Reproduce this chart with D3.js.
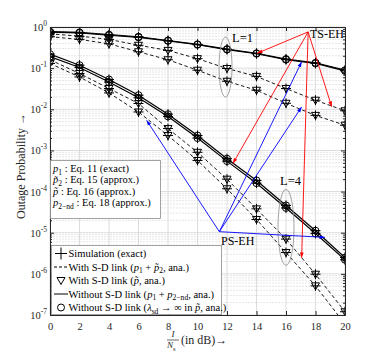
<!DOCTYPE html>
<html>
<head>
<meta charset="utf-8">
<script src="https://cdn.jsdelivr.net/npm/d3@7"></script>
<style>
  body { margin: 0; background: #fff; }
  text { font-family: "Liberation Serif", "Times New Roman", serif; }
</style>
</head>
<body>
<svg></svg>
<script>
// outage probability vs I/Ns, L=1 (upper group) and L=4 (lower group)
const width = 382,
      height = 354;

const snr = [0, 2, 4, 6, 8, 10, 12, 14, 16, 18, 20];

// L = 1
const tsL1Without = [0.77, 0.74, 0.65, 0.58, 0.47, 0.38, 0.29, 0.23, 0.166, 0.135, 0.089];
const psL1Without = [0.75, 0.72, 0.63, 0.56, 0.46, 0.37, 0.283, 0.224, 0.161, 0.13, 0.086];
const tsL1With    = [0.68, 0.6, 0.5, 0.36, 0.27, 0.17, 0.098, 0.063, 0.032, 0.0166, 0.0092];
const psL1With    = [0.58, 0.5, 0.39, 0.25, 0.16, 0.089, 0.048, 0.029, 0.014, 0.0071, 0.0041];

// L = 4
const tsL4Without = [0.22, 0.118, 0.053, 0.022, 0.0076, 0.0023, 6.3e-4, 1.86e-4, 4.6e-5, 1.12e-5, 2.5e-6];
const psL4Without = [0.19, 0.104, 0.046, 0.019, 0.0067, 0.002, 5.5e-4, 1.6e-4, 4e-5, 9.6e-6, 2.2e-6];
const tsL4With    = [0.16, 0.074, 0.032, 0.0138, 0.0034, 9e-4, 2e-4, 3.8e-5, 7e-6, 9.8e-7, 1.2e-7];
const psL4With    = [0.13, 0.061, 0.025, 0.0086, 0.0023, 5.7e-4, 1.17e-4, 2.1e-5, 3.3e-6, 5.1e-7, 6e-8];

const xTicks = [0, 2, 4, 6, 8, 10, 12, 14, 16, 18, 20];
const yTicks = [1e-7, 1e-6, 1e-5, 1e-4, 1e-3, 1e-2, 1e-1, 1];
const yExp = ['-7', '-6', '-5', '-4', '-3', '-2', '-1', '0'];

// annotation arrows, in data units: [from x, from p, to x, to p]
const tsArrows = [[17.5, 0.76, 14.05, 0.23], [17.5, 0.76, 19.1, 0.0115],
                  [17.5, 0.76, 12.4, 4.8e-4], [17.5, 0.76, 17.06, 2.45e-6]];
const psArrows = [[11.48, 1.06e-5, 6.55, 0.0054], [11.48, 1.06e-5, 17.06, 0.1425],
                  [11.48, 1.06e-5, 17.06, 0.0114], [11.48, 1.06e-5, 18.64, 7.7e-6]];

const series = [
  {v: tsL1Without, dash: false}, {v: psL1Without, dash: false},
  {v: tsL1With, dash: true}, {v: psL1With, dash: true},
  {v: tsL4Without, dash: false}, {v: psL4Without, dash: false},
  {v: tsL4With, dash: true}, {v: psL4With, dash: true}
];

const svg = d3.select('svg')
              .attr('width', width)
              .attr('height', height);

const x = d3.scaleLinear().domain([0, 20]).range([50, 345]);
const y = d3.scaleLog().domain([1e-7, 1]).range([315, 27]);

let minor = [];
for (let e = -7; e < 0; e++) for (let m = 2; m < 10; m++) minor.push(m * Math.pow(10, e));

svg.append('defs').append('clipPath').attr('id', 'clip')
   .append('rect').attr('x', 50).attr('y', 27).attr('width', 295).attr('height', 288);
['red', 'blue'].forEach(c => {
  svg.select('defs').append('marker')
     .attr('id', 'arrow-' + c)
     .attr('viewBox', '0 0 10 10').attr('refX', 10).attr('refY', 5)
     .attr('markerWidth', 6).attr('markerHeight', 6).attr('orient', 'auto')
     .append('path').attr('d', 'M0,1.5 L10,5 L0,8.5 Z').attr('fill', c);
});

// grid
const grid = svg.append('g');
grid.selectAll('.minor').data(minor).join('line')
    .attr('x1', 50).attr('x2', 345)
    .attr('y1', d => y(d)).attr('y2', d => y(d))
    .attr('stroke', '#e6e6e6').attr('stroke-dasharray', '2,1');
grid.selectAll('.hmaj').data(yTicks).join('line')
    .attr('x1', 50).attr('x2', 345)
    .attr('y1', d => y(d)).attr('y2', d => y(d))
    .attr('stroke', '#dcdcdc');
grid.selectAll('.vmaj').data(xTicks).join('line')
    .attr('x1', d => x(d)).attr('x2', d => x(d))
    .attr('y1', 27).attr('y2', 315)
    .attr('stroke', '#dcdcdc');

// curves
const plot = svg.append('g').attr('clip-path', 'url(#clip)');
const line = d3.line().x((d, i) => x(snr[i])).y(d => y(d));

series.forEach(s => {
  plot.append('path')
      .attr('d', line(s.v))
      .attr('fill', 'none')
      .attr('stroke', '#000')
      .attr('stroke-width', s.dash ? 0.9 : 1.2)
      .attr('stroke-dasharray', s.dash ? '3.5,2.5' : null);
});

series.forEach(s => {
  const pts = s.v.map((d, i) => [x(snr[i]), y(d)]).filter(p => p[1] < 318);
  const g = plot.append('g').attr('fill', 'none').attr('stroke', '#000').attr('stroke-width', 1);
  g.selectAll('.plus').data(pts).join('path')
   .attr('d', p => `M${p[0] - 5},${p[1]}h10M${p[0]},${p[1] - 5}v10`);
  if (s.dash) {
    g.selectAll('.tri').data(pts).join('path')
     .attr('d', p => `M${p[0] - 4},${p[1] - 3}h8l-4,7z`);
  } else {
    g.selectAll('.circ').data(pts).join('circle')
     .attr('cx', p => p[0]).attr('cy', p => p[1]).attr('r', 3.5);
  }
});

// axes (MATLAB style, ticks inside, box on)
const axisColor = '#262626';
function styleAxis(g) {
  g.select('.domain').attr('stroke', axisColor);
  g.selectAll('.tick line').attr('stroke', axisColor);
  g.selectAll('.tick text').attr('fill', axisColor)
   .attr('font-family', '"Liberation Serif", serif').attr('font-size', 10.5);
}
svg.append('g').attr('transform', 'translate(0,315)')
   .call(d3.axisBottom(x).tickValues(xTicks).tickSize(-4).tickSizeOuter(0).tickPadding(8))
   .call(styleAxis);
svg.append('g').attr('transform', 'translate(0,27)')
   .call(d3.axisTop(x).tickValues(xTicks).tickSize(-4).tickSizeOuter(0).tickFormat(''))
   .call(styleAxis);
svg.append('g').attr('transform', 'translate(50,0)')
   .call(d3.axisLeft(y).tickValues(yTicks).tickSize(-4).tickSizeOuter(0).tickFormat(''))
   .call(styleAxis);
svg.append('g').attr('transform', 'translate(50,0)')
   .call(d3.axisLeft(y).tickValues(minor).tickSize(-2).tickSizeOuter(0).tickFormat(''))
   .call(styleAxis);
svg.append('g').attr('transform', 'translate(345,0)')
   .call(d3.axisRight(y).tickValues(yTicks).tickSize(-4).tickSizeOuter(0).tickFormat(''))
   .call(styleAxis);
svg.append('g').attr('transform', 'translate(345,0)')
   .call(d3.axisRight(y).tickValues(minor).tickSize(-2).tickSizeOuter(0).tickFormat(''))
   .call(styleAxis);

// y tick labels 10^k
yTicks.forEach((v, i) => {
  const t = svg.append('text')
               .attr('x', 47).attr('y', y(v) + 4)
               .attr('text-anchor', 'end')
               .attr('font-size', 10.5).attr('fill', axisColor);
  t.append('tspan').text('10');
  t.append('tspan').attr('dy', -5).attr('font-size', 7.5).text(yExp[i]);
});

// rich text helper: parts are [string, style] with style '', 'i' (italic) or 's' (subscript)
function rich(sel, parts) {
  let shifted = false;
  parts.forEach(p => {
    const ts = sel.append('tspan').text(p[0]);
    if (p[1] === 'i') ts.attr('font-style', 'italic');
    if (p[1] === 's') {
      ts.attr('font-size', '0.72em').attr('dy', 2.5);
      shifted = true;
    } else if (shifted) {
      ts.attr('dy', -2.5);
      shifted = false;
    }
  });
  return sel;
}

// axis titles
svg.append('text')
   .attr('transform', 'translate(25,166) rotate(-90)')
   .attr('text-anchor', 'middle')
   .attr('font-size', 12).attr('fill', axisColor)
   .text('Outage Probability \u2192');

svg.append('text').attr('x', 173).attr('y', 337)
   .attr('text-anchor', 'middle').attr('font-size', 9).attr('font-style', 'italic')
   .attr('fill', axisColor).text('I');
svg.append('line').attr('x1', 167).attr('x2', 179).attr('y1', 340).attr('y2', 340)
   .attr('stroke', axisColor).attr('stroke-width', 0.7);
rich(svg.append('text').attr('x', 167).attr('y', 348).attr('font-size', 9).attr('fill', axisColor),
     [['N', 'i'], ['s', 's']]);
svg.append('text').attr('x', 181).attr('y', 344)
   .attr('font-size', 12).attr('fill', axisColor)
   .text('(in dB)\u2192');

// annotations
function ellipse(cx, cp, rx, ry) {
  svg.append('ellipse')
     .attr('cx', x(cx)).attr('cy', y(cp)).attr('rx', rx).attr('ry', ry)
     .attr('fill', 'none').attr('stroke', '#8c8c8c').attr('stroke-width', 0.8);
}
ellipse(11.9, 0.106, 6.5, 30);
ellipse(16, 1.35e-5, 8, 38);

svg.append('text').attr('x', 232).attr('y', 41.5).attr('font-size', 12.5).text('L=1');
svg.append('text').attr('x', 280).attr('y', 185).attr('font-size', 12.5).text('L=4');
svg.append('text').attr('x', 310).attr('y', 38).attr('font-size', 12).text('TS-EH');
svg.append('text').attr('x', 221).attr('y', 245).attr('font-size', 12).text('PS-EH');

function arrows(data, color) {
  svg.append('g').selectAll('line').data(data).join('line')
     .attr('x1', d => x(d[0])).attr('y1', d => y(d[1]))
     .attr('x2', d => x(d[2])).attr('y2', d => y(d[3]))
     .attr('stroke', color).attr('stroke-width', 0.9)
     .attr('marker-end', 'url(#arrow-' + color + ')');
}
arrows(tsArrows, 'red');
arrows(psArrows, 'blue');

// equation box
const eqBox = svg.append('g');
eqBox.append('rect').attr('x', 50.5).attr('y', 160.5).attr('width', 110).attr('height', 58)
     .attr('fill', '#fff').attr('stroke', '#8c8c8c').attr('stroke-width', 0.8);
const eqLines = [
  [['p', 'i'], ['1', 's'], [' : Eq. 11 (exact)', '']],
  [['p\u0303', 'i'], ['2', 's'], [' : Eq. 15 (approx.)', '']],
  [['p\u0303', 'i'], [' : Eq. 16 (approx.)', '']],
  [['p', 'i'], ['2\u2212nd', 's'], [' : Eq. 18 (approx.)', '']]
];
eqLines.forEach((parts, i) => {
  rich(eqBox.append('text').attr('x', 53).attr('y', 172 + i * 11.4).attr('font-size', 10.5), parts);
});

// legend
const leg = svg.append('g');
leg.append('rect').attr('x', 51.5).attr('y', 245.5).attr('width', 170).attr('height', 69)
   .attr('fill', '#fff').attr('stroke', '#8c8c8c').attr('stroke-width', 0.8);
const legItems = [
  {sym: 'plus', parts: [['Simulation (exact)', '']]},
  {sym: 'dash', parts: [['With S-D link (', ''], ['p', 'i'], ['1', 's'], [' + ', ''], ['p\u0303', 'i'], ['2', 's'], [', ana.)', '']]},
  {sym: 'tri', parts: [['With S-D link (', ''], ['p\u0303', 'i'], [', ana.)', '']]},
  {sym: 'solid', parts: [['Without S-D link (', ''], ['p', 'i'], ['1', 's'], [' + ', ''], ['p', 'i'], ['2\u2212nd', 's'], [', ana.)', '']]},
  {sym: 'circ', parts: [['Without S-D link (', ''], ['\u03bb', 'i'], ['sd', 's'], [' \u2192 \u221e in ', ''], ['p\u0303', 'i'], [', ana.)', '']]}
];
legItems.forEach((it, i) => {
  const cy = 253.5 + i * 13.5;
  const g = leg.append('g').attr('fill', 'none').attr('stroke', '#000').attr('stroke-width', 1);
  if (it.sym === 'plus') g.append('path').attr('d', `M55,${cy}h12M61,${cy - 6}v12`);
  if (it.sym === 'dash') g.append('path').attr('d', `M54,${cy}h14`).attr('stroke-dasharray', '3,2');
  if (it.sym === 'solid') g.append('path').attr('d', `M54,${cy}h14`);
  if (it.sym === 'tri') g.append('path').attr('d', `M57,${cy - 3}h8l-4,7z`);
  if (it.sym === 'circ') g.append('circle').attr('cx', 61).attr('cy', cy).attr('r', 3.5);
  rich(leg.append('text').attr('x', 68.5).attr('y', cy + 3.5).attr('font-size', 10.5), it.parts);
});
</script>
</body>
</html>
